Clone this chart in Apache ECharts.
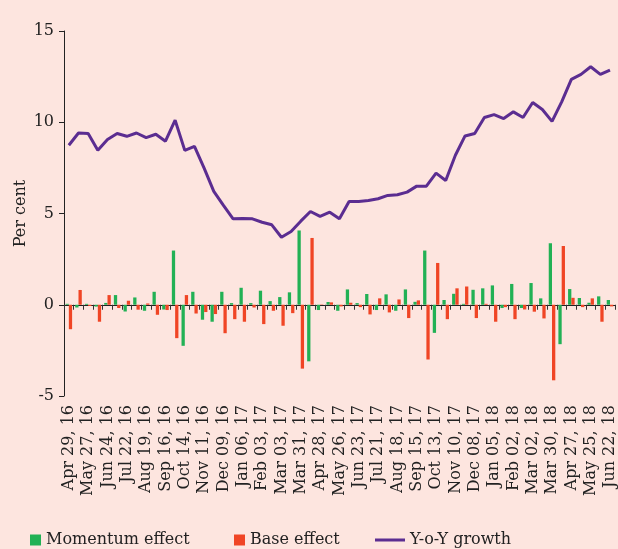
<!DOCTYPE html>
<html>
<head>
<meta charset="utf-8">
<script src="https://cdn.jsdelivr.net/npm/echarts@6/dist/echarts.min.js"></script>
<style>
  html, body { margin: 0; padding: 0; background: #fde5df; }
  #chart { width: 618px; height: 549px; }
</style>
</head>
<body>
<div id="chart"></div>
<script>
// fortnightly dates
var dates = [
  "Apr 29, 16", "May 13, 16", "May 27, 16", "Jun 10, 16", "Jun 24, 16", "Jul 08, 16",
  "Jul 22, 16", "Aug 05, 16", "Aug 19, 16", "Sep 02, 16", "Sep 16, 16", "Sep 30, 16",
  "Oct 14, 16", "Oct 28, 16", "Nov 11, 16", "Nov 25, 16", "Dec 09, 16", "Dec 23, 16",
  "Jan 06, 17", "Jan 20, 17", "Feb 03, 17", "Feb 17, 17", "Mar 03, 17", "Mar 17, 17",
  "Mar 31, 17", "Apr 14, 17", "Apr 28, 17", "May 12, 17", "May 26, 17", "Jun 09, 17",
  "Jun 23, 17", "Jul 07, 17", "Jul 21, 17", "Aug 04, 17", "Aug 18, 17", "Sep 01, 17",
  "Sep 15, 17", "Sep 29, 17", "Oct 13, 17", "Oct 27, 17", "Nov 10, 17", "Nov 24, 17",
  "Dec 08, 17", "Dec 22, 17", "Jan 05, 18", "Jan 19, 18", "Feb 02, 18", "Feb 16, 18",
  "Mar 02, 18", "Mar 16, 18", "Mar 30, 18", "Apr 13, 18", "Apr 27, 18", "May 11, 18",
  "May 25, 18", "Jun 08, 18", "Jun 22, 18"
];

var momentum = [
  0.05, -0.15, 0.05, -0.1, 0.1, 0.53, -0.37, 0.4, -0.33, 0.71,
  -0.26, 2.97, -2.25, 0.71, -0.82, -0.93, 0.71, 0.09, 0.93, 0.09,
  0.77, 0.2, 0.42, 0.68, 4.07, -3.1, -0.29, 0.15, -0.33, 0.84,
  0.09, 0.59, -0.29, 0.57, -0.33, 0.84, 0.16, 2.97, -1.54, 0.26,
  0.6, 0.05, 0.82, 0.9, 1.06, -0.18, 1.14, -0.18, 1.19, 0.35,
  3.37, -2.16, 0.86, 0.37, 0.11, 0.46, 0.26
];

var base = [
  -1.34, 0.81, -0.07, -0.93, 0.53, -0.18, 0.22, -0.27, 0.07, -0.55,
  -0.29, -1.83, 0.53, -0.48, -0.4, -0.51, -1.56, -0.79, -0.93, -0.15,
  -1.06, -0.33, -1.15, -0.46, -3.5, 3.66, 0.02, 0.13, -0.09, 0.11,
  -0.13, -0.53, 0.35, -0.42, 0.29, -0.73, 0.24, -3.0, 2.29, -0.79,
  0.9, 1.0, -0.73, 0.05, -0.93, -0.13, -0.79, -0.26, -0.38, -0.75,
  -4.14, 3.22, 0.38, -0.13, 0.35, -0.93, -0.09
];

var yoy = [
  8.74, 9.41, 9.38, 8.46, 9.05, 9.38, 9.23, 9.41, 9.16, 9.34,
  8.96, 10.11, 8.46, 8.68, 7.49, 6.21, 5.44, 4.71, 4.72, 4.71,
  4.52, 4.38, 3.70, 4.01, 4.58, 5.11, 4.84, 5.07, 4.71, 5.66,
  5.66, 5.71, 5.81, 5.99, 6.03, 6.17, 6.5, 6.5, 7.21, 6.81,
  8.19, 9.25, 9.38, 10.26, 10.42, 10.2, 10.57, 10.26, 11.08, 10.7,
  10.05, 11.12, 12.35, 12.62, 13.04, 12.62, 12.86
];

var font = "DejaVu Serif";
var green = "#22b155";
var red = "#f04525";
var purple = "#5b2d91";

var chart = echarts.init(document.getElementById("chart"));
chart.setOption({
  backgroundColor: "#fde5df",
  animation: false,
  textStyle: { fontFamily: font, color: "#222" },
  grid: { left: 64, right: 3, top: 31, bottom: 153 },
  legend: [
    {
      data: ["Momentum effect"], left: 25, top: 527, icon: "rect",
      itemWidth: 11, itemHeight: 11, itemGap: 8,
      textStyle: { fontFamily: font, fontSize: 16, color: "#222" }
    },
    {
      data: ["Base effect"], left: 229, top: 527, icon: "rect",
      itemWidth: 11, itemHeight: 11,
      textStyle: { fontFamily: font, fontSize: 16, color: "#222" }
    },
    {
      data: ["Y-o-Y growth"], left: 370, top: 527, icon: "rect",
      itemWidth: 30, itemHeight: 3,
      textStyle: { fontFamily: font, fontSize: 16, color: "#222" }
    }
  ],
  xAxis: [
    {
      type: "category",
      data: dates,
      axisLine: { onZero: true, lineStyle: { color: "#222", width: 1.2 } },
      axisTick: { show: true, interval: 0, length: 5, lineStyle: { color: "#333" } },
      axisLabel: { show: false },
      splitLine: { show: false }
    },
    {
      type: "category",
      data: dates,
      position: "bottom",
      axisLine: { show: false, onZero: false },
      axisTick: { show: false },
      axisLabel: {
        rotate: 90, interval: 1, margin: 9,
        fontFamily: font, fontSize: 16, color: "#222"
      },
      splitLine: { show: false }
    }
  ],
  yAxis: {
    type: "value",
    min: -5,
    max: 15,
    interval: 5,
    name: "Per cent",
    nameLocation: "middle",
    nameGap: 35,
    nameMoveOverlap: false,
    nameTextStyle: { fontFamily: font, fontSize: 16, color: "#222" },
    axisLine: { show: true, lineStyle: { color: "#222" } },
    axisTick: { show: true, length: 5, lineStyle: { color: "#222" } },
    axisLabel: { margin: 10, fontFamily: font, fontSize: 16, color: "#222" },
    splitLine: { show: false }
  },
  series: [
    {
      name: "Momentum effect",
      type: "bar",
      xAxisIndex: 0,
      data: momentum,
      barGap: 0,
      barCategoryGap: "32%",
      itemStyle: { color: green }
    },
    {
      name: "Base effect",
      type: "bar",
      xAxisIndex: 0,
      data: base,
      barGap: 0,
      barCategoryGap: "32%",
      itemStyle: { color: red }
    },
    {
      name: "Y-o-Y growth",
      type: "line",
      xAxisIndex: 1,
      data: yoy,
      symbol: "none",
      lineStyle: { color: purple, width: 3 },
      itemStyle: { color: purple }
    }
  ]
});
</script>
</body>
</html>
